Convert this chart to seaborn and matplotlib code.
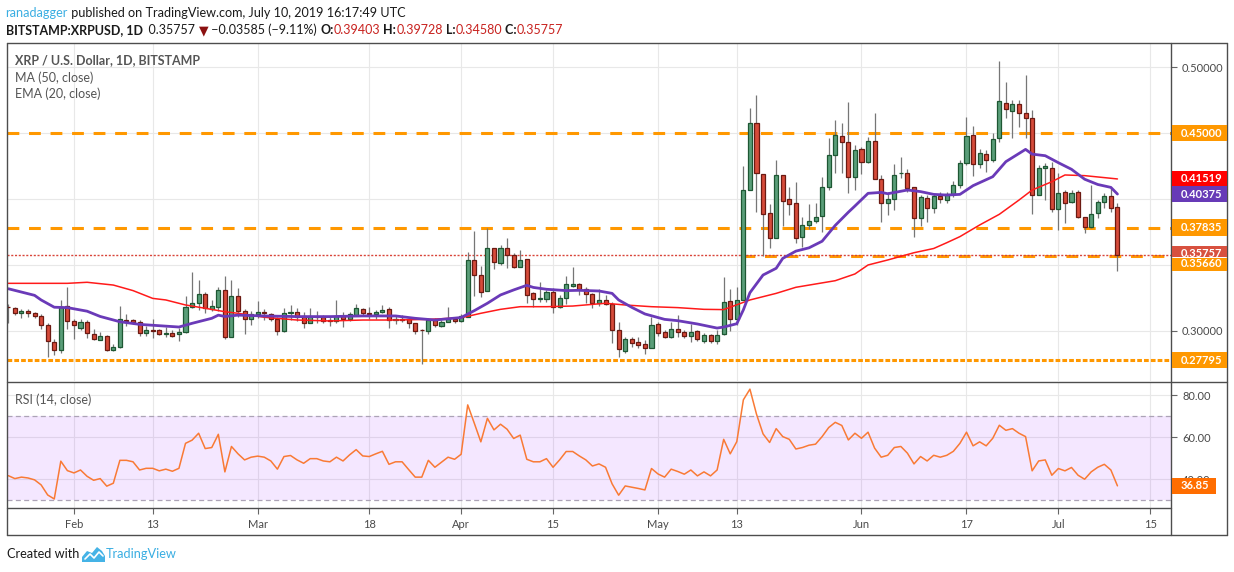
import numpy as np
import pandas as pd
import matplotlib
matplotlib.use("Agg")
import matplotlib.pyplot as plt
import seaborn as sns
from matplotlib.patches import Rectangle, Polygon
from matplotlib.lines import Line2D

# ---------------- data ----------------
start_date = "2019-01-22"
opens = [
    .318, .3172, .3134, .3152, .3134, .3111, .3043, .2914, .2854, .3187,
    .3076, .3025, .3066, .2975, .2934, .296, .2854, .2876, .3081, .3083,
    .3068, .2982, .3008, .3008, .2975, .2982, .2975, .299, .3184, .321,
    .3278, .3167, .3179, .3311, .2957, .3265, .3152, .3088, .3126, .3141,
    .3126, .3091, .3003, .3134, .3141, .3114, .3058, .3109, .3104, .3083,
    .3078, .3111, .3088, .312, .3164, .3134, .3126, .3141, .3164, .3083,
    .3088, .3088, .3058, .3008, .3003, .3083, .304, .3066, .3093, .3076,
    .3109, .3535, .3422, .3301, .3626, .3518, .3626, .3573, .3487, .3543,
    .3285, .324, .3245, .3295, .3179, .3253, .3343, .3354, .3316, .3278,
    .3215, .3235, .3205, .3005, .2851, .2939, .2914, .2902, .2869, .3051,
    .2995, .2952, .3015, .299, .2965, .30, .2927, .2967, .2927, .2975,
    .3227, .3093, .3235, .4066, .4573, .4187, .3891, .3702, .4179, .3997,
    .3967, .371, .38, .3831, .3871, .4088, .4331, .4475, .4429, .4169,
    .4376, .4283, .4437, .4154, .3972, .3997, .4194, .4194, .4088, .3854,
    .4008, .3929, .402, .399, .4035, .4106, .427, .4482, .4263, .4338,
    .4293, .446, .4725, .4667, .4717, .4649, .4611, .403, .4232, .4232,
    .3924, .405, .3975, .405, .3861, .3785, .3891, .3975, .402, .39403,
]
highs = [
    .3205, .3184, .3164, .3164, .3146, .3129, .3063, .2939, .3235, .3333,
    .3093, .3091, .3083, .3013, .299, .2967, .2902, .3189, .3129, .3091,
    .3083, .3038, .3091, .3015, .3028, .3008, .302, .3265, .3444, .3386,
    .3298, .3235, .3336, .3417, .3386, .3323, .3164, .3154, .3227, .3164,
    .3139, .3109, .3172, .3197, .3172, .3144, .3172, .3152, .3119, .3104,
    .3235, .3144, .3144, .3205, .3172, .3184, .3159, .3197, .3184, .3114,
    .3121, .3096, .3063, .3013, .3096, .3096, .3083, .3184, .3109, .3129,
    .3596, .3758, .3492, .378, .3626, .3652, .3702, .3588, .3614, .3543,
    .3298, .3371, .3311, .3323, .3273, .3417, .3487, .3361, .3336, .3285,
    .3316, .3273, .3222, .3066, .2952, .2957, .2952, .2932, .3104, .3071,
    .3008, .3071, .3121, .3008, .3053, .3008, .2982, .2977, .3008, .3412,
    .3318, .3336, .425, .469, .4788, .4187, .3962, .4295, .4179, .4088,
    .4131, .3866, .3962, .3967, .4164, .446, .4598, .4573, .4735, .4409,
    .4396, .4472, .4649, .4179, .4051, .4265, .4316, .4225, .4088, .403,
    .403, .4038, .4056, .4056, .4136, .4293, .4624, .4553, .4376, .4371,
    .4497, .5045, .4884, .475, .475, .494, .4674, .4258, .427, .4278,
    .4194, .4068, .4068, .4068, .3866, .4106, .3992, .4043, .4081, .39728,
]
lows = [
    .306, .312, .310, .3104, .3096, .3013, .2806, .2818, .2831, .3013,
    .2937, .3008, .2944, .2932, .2929, .2848, .2851, .2869, .3038, .3053,
    .2965, .2965, .2949, .297, .2957, .2957, .2927, .2982, .3172, .316,
    .3139, .3152, .3154, .2937, .2952, .3109, .2977, .3045, .3096, .3083,
    .3076, .297, .2995, .3083, .3076, .302, .3058, .3058, .3058, .3038,
    .3058, .3033, .3076, .3114, .3121, .3088, .3093, .3134, .302, .305,
    .3071, .302, .2977, .275, .2977, .3028, .3033, .3066, .3058, .3071,
    .3104, .3265, .3255, .3301, .347, .35, .348, .3475, .3482, .3215,
    .3179, .3222, .322, .3134, .3172, .3205, .3336, .3273, .321, .3172,
    .3192, .3197, .2912, .28, .2831, .2876, .2869, .2826, .2869, .2965,
    .2944, .2944, .2957, .2944, .2914, .2927, .2907, .2907, .2902, .2967,
    .3003, .3043, .3235, .4066, .3904, .3571, .3631, .3702, .3798, .3879,
    .3664, .3639, .3773, .3816, .3753, .4068, .4194, .4194, .4043, .4068,
    .4187, .427, .4154, .3828, .3879, .3917, .4157, .4056, .371, .3798,
    .3828, .3891, .3967, .3967, .4018, .4081, .4258, .4177, .4237, .4207,
    .4283, .4429, .4616, .446, .4548, .446, .3884, .403, .3992, .3904,
    .3765, .3816, .3967, .3854, .374, .3778, .3854, .3934, .3899, .3458,
]
closes = [
    .3178, .3134, .315, .3134, .3111, .3043, .2922, .2854, .3184, .3073,
    .3043, .3066, .2982, .2942, .296, .2854, .2876, .3088, .3079, .3071,
    .2982, .3008, .2997, .2975, .2982, .2965, .299, .3179, .321, .3278,
    .3172, .3187, .3311, .2957, .3263, .3154, .3088, .3126, .3141, .3134,
    .3088, .3003, .3134, .3141, .3109, .3058, .3114, .3104, .3078, .3076,
    .3111, .3088, .3126, .3172, .3134, .3126, .3144, .3159, .3083, .3088,
    .3086, .3058, .3003, .3005, .3083, .3043, .3066, .3093, .3078, .3111,
    .3535, .3422, .3293, .3626, .352, .3626, .3573, .3487, .3535, .3275,
    .324, .3247, .3295, .3179, .3247, .3354, .3354, .3316, .3278, .3215,
    .3235, .3205, .3005, .2861, .2939, .2912, .2896, .2874, .3043, .2982,
    .2952, .3015, .299, .2965, .299, .2937, .2967, .2927, .2967, .322,
    .3093, .3235, .4066, .4573, .4194, .3884, .3702, .4179, .3982, .396,
    .3702, .38, .3831, .3861, .4088, .4331, .4482, .4434, .4169, .4371,
    .4283, .4437, .4154, .3967, .3997, .4184, .4196, .4081, .3854, .4013,
    .3929, .4023, .3997, .4035, .4106, .427, .4477, .4263, .4346, .4293,
    .4452, .474, .4679, .4717, .4649, .4611, .403, .4232, .4247, .3924,
    .4043, .3967, .4043, .3866, .3785, .3884, .3975, .402, .39342, .35757,
]
rsi_vals = [
    41.7, 40.3, 41.0, 40.6, 39.7, 37.3, 32.5, 30.6, 48.6, 44.1,
    43.0, 44.4, 41.4, 39.5, 40.3, 36.7, 38.1, 49.0, 49.0, 48.3,
    44.4, 45.2, 45.2, 44.0, 44.8, 43.8, 45.2, 57.1, 58.6, 61.9,
    54.6, 55.1, 61.4, 43.5, 55.6, 52.1, 49.2, 50.5, 51.0, 50.5,
    48.7, 44.8, 50.8, 51.3, 49.2, 47.6, 49.8, 49.8, 48.7, 48.3,
    50.5, 48.7, 51.6, 54.1, 51.1, 50.8, 52.1, 53.3, 47.1, 48.3,
    48.3, 44.6, 41.0, 41.0, 49.0, 45.7, 48.1, 50.5, 49.5, 51.9,
    75.4, 66.7, 57.8, 69.0, 63.5, 66.2, 63.8, 59.4, 61.0, 49.5,
    48.3, 48.3, 49.8, 45.7, 49.2, 53.2, 53.2, 51.1, 49.2, 46.3,
    47.3, 45.7, 37.8, 32.4, 36.8, 36.2, 35.6, 34.9, 45.1, 42.5,
    41.0, 44.8, 43.7, 42.4, 44.4, 41.6, 43.5, 41.6, 44.4, 59.0,
    52.1, 57.9, 77.8, 82.9, 71.0, 61.6, 57.5, 64.1, 60.3, 59.0,
    54.4, 55.1, 56.2, 56.7, 60.3, 64.6, 67.1, 65.6, 58.7, 61.9,
    59.5, 62.4, 54.8, 50.5, 51.4, 55.1, 55.6, 52.4, 47.3, 50.8,
    48.7, 51.4, 50.5, 51.4, 53.3, 57.1, 62.4, 55.9, 57.8, 55.9,
    59.5, 65.7, 63.3, 64.1, 61.9, 60.3, 44.0, 48.7, 49.2, 41.9,
    45.1, 44.0, 45.6, 41.9, 40.0, 43.5, 45.7, 47.1, 44.4, 36.85,
]
ema_day = [0, 4, 5, 7, 9, 12, 14, 17, 20, 23, 26, 28, 31, 32, 33, 35, 39, 44, 49, 54,
           59, 62, 65, 69, 71, 73, 75, 77, 79, 80, 82, 85, 87, 90, 92, 93, 95, 97, 100, 102,
           105, 108, 109, 111, 112, 113, 115, 117, 118, 120, 122, 124, 126, 128, 129, 131, 133, 134, 137, 139,
           141, 143, 145, 147, 150, 152, 155, 156, 158, 160, 162, 164, 166, 168, 169]
ema_val = [.332, .327, .3235, .318, .3177, .315, .311, .307, .305, .304, .303, .3058, .3096, .312, .311,
           .312, .3114, .3109, .3109, .3114, .3114, .3096, .3083, .3102, .3154, .321, .3273, .3311, .3346, .333,
           .3316, .3306, .3308, .3303, .3285, .3235, .3179, .3129, .3088, .3078, .3053, .3022, .3030, .3055, .316,
           .329, .3424, .3475, .355, .3605, .363, .368, .380, .390, .3947, .4043, .405, .404, .4068, .4056,
           .4035, .403, .4035, .4101, .4169, .4283, .4376, .4340, .4328, .4275, .4225, .415, .411, .4088, .40375]
ma_day = [0, 4, 9, 12, 16, 19, 22, 24, 27, 30, 33, 35, 39, 44, 49, 54, 59, 64, 69, 72,
          75, 78, 82, 86, 91, 94, 98, 102, 106, 109, 113, 117, 120, 123, 126, 129, 131, 134, 138, 141,
          143, 145, 148, 151, 154, 156, 159, 161, 164, 167, 169]
ma_val = [.3361, .3361, .3361, .3369, .3348, .3306, .3247, .3235, .3197, .3172, .3146, .3134, .3104, .3083,
          .3076, .3083, .3083, .3088, .3100, .3134, .3164, .3184, .3184, .3189, .321, .3197, .3184, .3177,
          .3164, .3162, .3235, .3285, .3331, .3356, .3381, .3432, .350, .3538, .3593, .3625, .3669, .3715,
          .3803, .3884, .3992, .4068, .4131, .4182, .4177, .4162, .41519]
tick_dates = ["2019-02-01", "2019-02-13", "2019-03-01", "2019-03-18", "2019-04-01", "2019-04-15",
              "2019-05-01", "2019-05-13", "2019-06-01", "2019-06-17", "2019-07-01", "2019-07-15"]
tick_labels = ["Feb", "13", "Mar", "18", "Apr", "15", "May", "13", "Jun", "17", "Jul", "15"]
level_long = [0.45, 0.37835]
level_support = 0.3566
level_support_start = "2019-05-14"
level_low = 0.27795
last_price = 0.35757
last_ma = 0.41519
last_ema = 0.40375
last_rsi = 36.85

# ---------------- style ----------------
sns.set_theme(style="white")
plt.rcParams["font.family"] = ["Lato", "DejaVu Sans"]
plt.rcParams["lines.scale_dashes"] = False

W, H = 1234, 572
fig = plt.figure(figsize=(W / 100, H / 100), dpi=100)
fig.patch.set_facecolor("white")


def fx(x):
    return x / W


def fy(y):
    return 1 - y / H


def add_axes_px(x0, y0, x1, y1):
    return fig.add_axes([fx(x0), fy(y1), (x1 - x0) / W, (y1 - y0) / H])


ax = add_axes_px(7, 43, 1171, 381)
ax2 = add_axes_px(7, 382, 1171, 508)

start = pd.Timestamp(start_date)
o = np.array(opens); h = np.array(highs); l = np.array(lows); c = np.array(closes)
days = np.arange(len(o), dtype=float)
tick_pos = [(pd.Timestamp(t) - start).days for t in tick_dates]
xlim = (-0.2, 177.16)

for a in (ax, ax2):
    a.set_xlim(*xlim)
    a.set_facecolor("white")
    a.set_xticks(tick_pos)
    a.grid(True, color="#e8e8e8", lw=0.8)
    a.set_axisbelow(True)
    for s in a.spines.values():
        s.set_visible(False)
    a.yaxis.tick_right()

ax.set_ylim(0.2621, 0.5182)
ax2.set_ylim(26.3, 86.3)

# candles
up = c >= o
body_lo = np.minimum(o, c)
body_h = np.maximum(np.abs(c - o), 0.0003)
ax.vlines(days, l, h, color="#767676", lw=0.9, zorder=3)
ax.bar(days[up], body_h[up], bottom=body_lo[up], width=0.62, color="#5a9e79",
       edgecolor="#1e5733", linewidth=0.9, zorder=4)
ax.bar(days[~up], body_h[~up], bottom=body_lo[~up], width=0.62, color="#d64b3a",
       edgecolor="#6b1a12", linewidth=0.9, zorder=4)

# moving averages
sns.lineplot(x=ma_day, y=ma_val, ax=ax, color="#ff1a1a", lw=1.1, zorder=5)
sns.lineplot(x=ema_day, y=ema_val, ax=ax, color="#6a3ab8", lw=2.0, zorder=6)

# levels
for lv in level_long:
    ax.axhline(lv, color="#ff9800", lw=2.2, dashes=(8.5, 7), zorder=2)
sup_x = (pd.Timestamp(level_support_start) - start).days
ax.plot([sup_x, xlim[1]], [level_support, level_support], color="#ff9800", lw=2.2,
        dashes=(8.5, 7), zorder=2)
ax.axhline(level_low, color="#ff9800", lw=2.2, dashes=(3.4, 1.5), zorder=2)
ax.axhline(last_price, color="#d9453a", lw=1.0, dashes=(1.5, 1.2), zorder=2)

# RSI
ax2.axhspan(30, 70, color="#9515ff", alpha=0.1, lw=0, zorder=1)
for lv in (70, 30):
    ax2.axhline(lv, color="#aca3b6", lw=0.9, dashes=(3.6, 2.4), zorder=2)
sns.lineplot(x=days, y=rsi_vals, ax=ax2, color="#f97a35", lw=1.1, zorder=4)

for a in (ax, ax2):
    a.set_xlabel("")
    a.set_ylabel("")

# ticks
ax.set_yticks([0.30, 0.35, 0.40, 0.45, 0.50])
ax.set_yticklabels(["0.30000", "", "", "", "0.50000"])
ax2.set_yticks([40, 60, 80])
ax2.set_yticklabels(["40.00", "60.00", "80.00"])
for a in (ax, ax2):
    a.tick_params(axis="y", which="both", right=True, left=False, length=4, width=0.8,
                  color="#666666", labelsize=8, labelcolor="#4a4a4a", pad=4, direction="out")
ax.tick_params(axis="x", length=0, labelbottom=False)
ax2.set_xticklabels(tick_labels)
ax2.tick_params(axis="x", bottom=True, length=4, width=0.8, color="#666666", labelsize=8,
                labelcolor="#4a4a4a", pad=4, direction="out")

# frame lines (figure pixels)
frame_col = "#4d4d4d"


def fline(x0, y0, x1, y1, lw=1.0):
    fig.add_artist(Line2D([fx(x0), fx(x1)], [fy(y0), fy(y1)], transform=fig.transFigure,
                          color=frame_col, lw=lw, zorder=3))


fline(7, 43, 1227, 43)
fline(7, 43, 7, 535)
fline(1227, 43, 1227, 535)
fline(7, 535, 1227, 535)
fline(1171, 43, 1171, 535)
fline(7, 381.5, 1227, 381.5)
fline(7, 508, 1171, 508)


# price labels boxes
def label_box(a, val, color, text, x1=1227, top=-8.25, bot=8.25, toff=0.0):
    yd = a.transData.transform((0, val))[1]  # display px from bottom
    ytop = yd - top
    ybot = yd - bot
    fig.add_artist(Rectangle((fx(1172), ybot / H), (x1 - 1172) / W, (ytop - ybot) / H,
                             transform=fig.transFigure, facecolor=color, edgecolor="none", zorder=5))
    fig.text(fx(1181), (yd - toff) / H, text, color="white", fontsize=8, fontweight="bold",
             va="center", ha="left", zorder=6)


label_box(ax, 0.45, "#ff9800", "0.45000")
label_box(ax, last_ma, "#ff0000", f"{last_ma:.5f}")
label_box(ax, last_ema, "#673ab7", f"{last_ema:.5f}")
label_box(ax, 0.37835, "#ff9800", "0.37835")
label_box(ax, level_support, "#ff9800", f"{level_support:.5f}", top=1.7, bot=15.0, toff=7.5)
label_box(ax, last_price, "#d8513f", f"{last_price:.5f}", top=-8.5, bot=1.7, toff=-1.5)
label_box(ax, level_low, "#ff9800", f"{level_low:.5f}")
label_box(ax2, last_rsi, "#ff6d00", f"{last_rsi:.2f}", x1=1216)

# legends inside panes
fig.text(fx(15), fy(60), "XRP / U.S. Dollar, 1D, BITSTAMP", fontsize=9, fontweight="bold",
         color="#555555", va="center", ha="left")
fig.text(fx(15), fy(78), "MA (50, close)", fontsize=9, color="#555555", va="center", ha="left")
fig.text(fx(15), fy(94), "EMA (20, close)", fontsize=9, color="#555555", va="center", ha="left")
fig.text(fx(15), fy(400), "RSI (14, close)", fontsize=9, color="#555555", va="center", ha="left")


def chain(parts, x, y, size):
    s, col, wt = parts[0]
    t = fig.text(fx(x), fy(y), s, color=col, fontweight=wt, fontsize=size, va="center", ha="left")
    for s, col, wt in parts[1:]:
        t = ax.annotate(s, xy=(1, 0), xycoords=t, va="bottom", ha="left", color=col,
                        fontweight=wt, fontsize=size, annotation_clip=False)
    return t


dark = "#1a1a1a"
red = "#c8221f"
chain([("ranadagger", "#3aaee2", "normal"),
       (" published on TradingView.com, July 10, 2019 16:17:49 UTC", dark, "normal")], 5.5, 13, 9.1)
chain([("BITSTAMP:XRPUSD, 1D", dark, "bold"),
       ("  0.35757 ", dark, "normal"),
       ("\u25BC", "#8b1010", "normal"),
       (" \u22120.03585 (\u22129.11%) ", dark, "normal"),
       ("O:", dark, "bold"), ("0.39403", red, "normal"),
       (" H:", dark, "bold"), ("0.39728", red, "normal"),
       (" L:", dark, "bold"), ("0.34580", red, "normal"),
       (" C:", dark, "bold"), ("0.35757", red, "normal")], 5.5, 30, 9.0)

# footer
fig.text(fx(7), fy(554), "Created with", fontsize=9.2, color=dark, va="center", ha="left")
fig.add_artist(Polygon([(fx(82), fy(562)), (fx(82), fy(557)), (fx(87), fy(551)), (fx(92), fy(553)),
                        (fx(97), fy(547)), (fx(102), fy(551)), (fx(105), fy(556)), (fx(105), fy(562))],
                       closed=True, transform=fig.transFigure, facecolor="#45b3e6", edgecolor="none"))
fig.add_artist(Line2D([fx(85), fx(90), fx(94), fx(99), fx(103)], [fy(559), fy(554), fy(558), fy(552), fy(556)],
                      transform=fig.transFigure, color="white", lw=1.2))
fig.text(fx(106), fy(554), "TradingView", fontsize=9.2, color="#3aaee2", va="center", ha="left")

fig.savefig("out.png", dpi=100, facecolor="white")
